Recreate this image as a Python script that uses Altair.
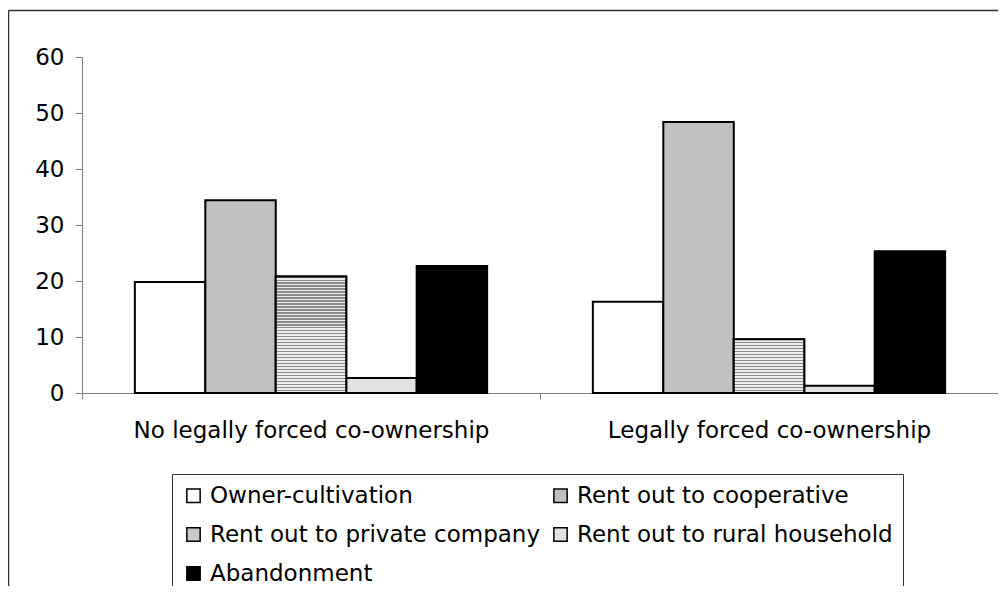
import altair as alt
import pandas as pd

groups = ["No legally forced co-ownership", "Legally forced co-ownership"]
types = ["Owner-cultivation", "Rent out to cooperative", "Rent out to private company",
         "Rent out to rural household", "Abandonment"]
vals_no = [19.8, 34.4, 20.8, 2.7, 22.7]
vals_forced = [16.3, 48.4, 9.6, 1.3, 25.3]
colors = ["#ffffff", "#c0c0c0", "#c8c8c8", "#e2e2e2", "#000000"]
# legend is laid out column by column; this order reads row by row as in the reference
legend_order = [types[0], types[2], types[4], types[1], types[3]]
legend_colors = [colors[types.index(t)] for t in legend_order]

rows = []
for g, vs in zip(groups, [vals_no, vals_forced]):
    for t, v in zip(types, vs):
        rows.append({"group": g, "type": t, "value": v})
df = pd.DataFrame(rows)

FONT = "DejaVu Sans"
PX_PER_UNIT = 336 / 60.0

x_enc = alt.X("group:N", sort=groups, title=None,
              scale=alt.Scale(paddingInner=0, paddingOuter=0),
              axis=alt.Axis(labelAngle=0, labelFontSize=23, labelFont=FONT, labelColor="black",
                            tickBand="extent", tickSize=6, tickColor="#808080",
                            domainColor="#808080", labelPadding=20, labelLimit=0))
xo_enc = alt.XOffset("type:N", sort=types,
                     scale=alt.Scale(domain=types, paddingOuter=0.75, paddingInner=0))
y_enc = alt.Y("value:Q", title=None,
              scale=alt.Scale(domain=[0, 60], nice=False),
              axis=alt.Axis(values=[0, 10, 20, 30, 40, 50, 60], grid=False, tickSize=7,
                            tickColor="#808080", domainColor="#808080", labelFontSize=23,
                            labelFont=FONT, labelColor="black", labelPadding=11))

bars = alt.Chart(df).mark_bar(stroke="black", strokeWidth=2).encode(
    x=x_enc, xOffset=xo_enc, y=y_enc,
    color=alt.Color("type:N",
                    scale=alt.Scale(domain=legend_order, range=legend_colors),
                    legend=alt.Legend(title=None, orient="none", legendX=90, legendY=417,
                                      columns=2, padding=10, strokeColor="#333333",
                                      rowPadding=15, columnPadding=8, labelFontSize=23,
                                      labelFont=FONT, labelColor="black", symbolType="square",
                                      symbolSize=177, symbolStrokeColor="black",
                                      symbolStrokeWidth=1.5, labelOffset=5, labelLimit=0,
                                      symbolOpacity=1)),
)


def stripes(value):
    n = max(2, round(value * PX_PER_UNIT / 3.0))
    stops = []
    for i in range(n):
        a = i / n
        b = (i + 0.4) / n
        c = (i + 1) / n
        stops += [{"offset": a, "color": "#8a8a8a"}, {"offset": b, "color": "#8a8a8a"},
                  {"offset": b, "color": "#ececec"}, {"offset": c, "color": "#ececec"}]
    return {"gradient": "linear", "x1": 0, "y1": 0, "x2": 0, "y2": 1, "stops": stops}


layers = [bars]
for g, vs in zip(groups, [vals_no, vals_forced]):
    v = vs[2]
    layers.append(
        alt.Chart(df).transform_filter(
            (alt.datum.group == g) & (alt.datum.type == types[2])
        ).mark_bar(fill=stripes(v), stroke="black", strokeWidth=2).encode(
            x=alt.X("group:N", sort=groups, title=None), xOffset=xo_enc, y=alt.Y("value:Q")
        )
    )

frame_df = pd.DataFrame({"k": [0]})
frame_left = alt.Chart(frame_df).mark_rule(color="#333333", strokeWidth=1.5).encode(
    x=alt.value(-73.5), y=alt.value(-46.5), y2=alt.value(620))
frame_top = alt.Chart(frame_df).mark_rule(color="#333333", strokeWidth=1.5).encode(
    x=alt.value(-73.5), x2=alt.value(1000), y=alt.value(-46.5))
layers += [frame_left, frame_top]

chart = alt.layer(*layers).properties(
    width=916, height=336,
    autosize=alt.AutoSizeParams(type="none"),
    padding={"left": 74, "top": 49, "right": 0, "bottom": 193},
).configure_view(stroke=None).configure_axis(domainWidth=1, tickWidth=1)

chart.save("out.html", embed_options={"renderer": "svg", "actions": False})
